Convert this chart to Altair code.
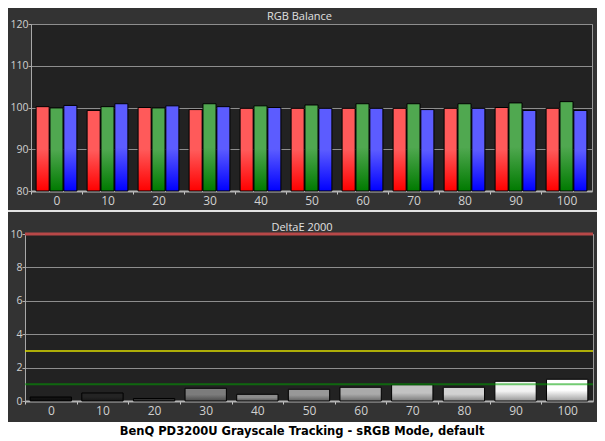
import altair as alt
import pandas as pd

# ---------------- data ----------------
levels = [0, 10, 20, 30, 40, 50, 60, 70, 80, 90, 100]
red_vals = [100.2, 99.3, 100.0, 99.5, 99.8, 99.8, 99.8, 99.8, 99.8, 100.0, 99.8]
green_vals = [99.9, 100.2, 99.9, 100.9, 100.4, 100.6, 100.9, 100.9, 100.9, 101.1, 101.4]
blue_vals = [100.5, 100.9, 100.4, 100.2, 100.0, 99.8, 99.8, 99.5, 99.8, 99.3, 99.3]
delta_e = [0.24, 0.48, 0.15, 0.76, 0.40, 0.70, 0.82, 0.97, 0.82, 1.18, 1.30]
threshold_red = [10]
threshold_yellow = [3]
threshold_green = [1]
top_title = "RGB Balance"
bottom_title = "DeltaE 2000"
caption = "BenQ PD3200U Grayscale Tracking - sRGB Mode, default"

# ---------------- styles ----------------
BG = "#333333"
PLOT_BG = "#222222"
LABEL = "#d0d0d0"
FONT = "Open Sans"
gray_top = ["#121212", "#242424", "#303030", "#7c7c7c", "#8c8c8c", "#989898",
            "#aaaaaa", "#c2c2c2", "#d2d2d2", "#f2f2f2", "#ffffff"]
gray_bot = ["#080808", "#161616", "#1e1e1e", "#4a4a4a", "#555555", "#5e5e5e",
            "#6a6a6a", "#7a7a7a", "#858585", "#959595", "#a0a0a0"]
rgb_style = {"R": ("#ff5a5a", "#ff0000"), "G": ("#50a850", "#007a00"), "B": ("#5c5cff", "#0000ff")}

def vgrad(top, bottom):
    return alt.Gradient(gradient="linear", x1=0, x2=0, y1=0, y2=1,
                        stops=[alt.GradientStop(offset=0, color=top),
                               alt.GradientStop(offset=0.5, color=top),
                               alt.GradientStop(offset=1, color=bottom)])

def band_fill(first, second, split):
    # hard-edged vertical two-colour fill for a panel background
    return alt.Gradient(gradient="linear", x1=0, x2=0, y1=0, y2=1,
                        stops=[alt.GradientStop(offset=0, color=first),
                               alt.GradientStop(offset=split, color=first),
                               alt.GradientStop(offset=split, color=second),
                               alt.GradientStop(offset=1, color=second)])

rows = []
for i, lv in enumerate(levels):
    for ch, vals in (("R", red_vals), ("G", green_vals), ("B", blue_vals)):
        rows.append({"level": lv, "ch": ch, "value": vals[i]})
rgb_df = pd.DataFrame(rows)
de_df = pd.DataFrame({"level": levels, "de": delta_e})

TOP_W, TOP_H = 561, 167
BOT_W, BOT_H = 568, 167
FULL_W = 589

def x_enc(step):
    return alt.X("level:O", sort=levels,
                 scale=alt.Scale(paddingInner=0.2, paddingOuter=0.1),
                 axis=alt.Axis(title=None, labelAngle=0, labelFontSize=12,
                               tickOffset=-step / 2, labelOffset=step / 2,
                               tickSize=3, tickColor="#c8c8c8", labelPadding=1,
                               domainColor="#b4b4b4", domainWidth=2))

def y_axis(vals):
    return alt.Axis(title=None, values=vals, grid=True,
                    gridColor="#8e8e8e", tickSize=3, tickColor="#b0b0b0",
                    domainColor="#a8a8a8", labelPadding=0, labelFontSize=10.5)

def spacer():
    return alt.Chart(pd.DataFrame({"v": [0]})).mark_rule(opacity=0).encode(
        y=alt.value(0)
    ).properties(width=1, height=1, view=alt.ViewBackground(opacity=0, strokeWidth=0))

def panel(fill, height):
    # full-width decorative band; a rect with no position channels spans the view
    return alt.Chart(pd.DataFrame({"v": [0]})).mark_rect(fill=fill, strokeWidth=0).encode(
        opacity=alt.value(1)
    ).properties(width=FULL_W, height=height,
                 view=alt.ViewBackground(fill=BG, strokeWidth=0))

# ---------------- top chart ----------------
x_top = x_enc(TOP_W / 11)
y_top = alt.Y("value:Q", scale=alt.Scale(domain=[80, 120], nice=False, zero=False),
              axis=y_axis([80, 90, 100, 110, 120]))
xoff = alt.XOffset("ch:N", scale=alt.Scale(domain=["R", "G", "B"], paddingInner=0.06, paddingOuter=0))

top_layers = []
for ch in ["R", "G", "B"]:
    t, b = rgb_style[ch]
    top_layers.append(
        alt.Chart(rgb_df).transform_filter(alt.datum.ch == ch)
        .mark_bar(fill=vgrad(t, b), stroke="#000000", strokeWidth=1)
        .encode(x=x_top, xOffset=xoff, y=y_top, y2=alt.datum(80))
    )
top = alt.layer(*top_layers).properties(
    width=TOP_W, height=TOP_H,
    title=alt.TitleParams(top_title, fontSize=11, font=FONT, fontWeight="normal",
                          color="#e0e0e0", offset=-2.5, dx=-12),
)

# ---------------- separator ----------------
SEP_H = 7.5
sep = panel(band_fill("#e2e2e2", BG, 2 / SEP_H), SEP_H)

# ---------------- bottom chart ----------------
x_bot = x_enc(BOT_W / 11)
y_bot = alt.Y("de:Q", scale=alt.Scale(domain=[0, 10], nice=False),
              axis=y_axis([0, 2, 4, 6, 8, 10]))
bot_layers = []
for i, lv in enumerate(levels):
    bot_layers.append(
        alt.Chart(de_df).transform_filter(alt.datum.level == lv)
        .mark_bar(fill=vgrad(gray_top[i], gray_bot[i]), stroke="#000000", strokeWidth=1)
        .encode(x=x_bot, y=y_bot)
    )
bot_layers.append(alt.Chart(pd.DataFrame({"de": threshold_yellow})).mark_rule(
    color="#dede00", strokeWidth=1.5).encode(y=y_bot))
bot_layers.append(alt.Chart(pd.DataFrame({"de": threshold_green})).mark_rule(
    color="#00a000", strokeWidth=2, opacity=0.55).encode(y=y_bot))
bot_layers.append(alt.Chart(pd.DataFrame({"de": threshold_red})).mark_rule(
    color="#b84848", strokeWidth=3).encode(y=y_bot))
bottom = alt.layer(*bot_layers).properties(
    width=BOT_W, height=BOT_H,
    title=alt.TitleParams(bottom_title, fontSize=11, font=FONT, fontWeight="normal",
                          color="#e0e0e0", offset=-4, dx=-7),
)

# ---------------- caption ----------------
CAP_H = 24
cap_bg = panel(band_fill(BG, "#ffffff", 2 / CAP_H), CAP_H)
cap_text = alt.Chart(pd.DataFrame({"t": [caption]})).mark_text(
    font="DejaVu Sans", fontSize=11.5, fontWeight="bold", color="#000000"
).encode(text="t:N", x=alt.value(294), y=alt.value(12))
cap = alt.layer(cap_bg, cap_text).properties(width=FULL_W, height=CAP_H)

chart = alt.vconcat(
    alt.hconcat(spacer(), top, spacing=0),
    sep,
    alt.hconcat(spacer(), bottom, spacing=0),
    cap,
    spacing=3,
).properties(padding={"top": 2, "left": 0, "right": 0, "bottom": 0}, background=BG).configure_view(
    fill=PLOT_BG, stroke="#9a9a9a", strokeWidth=1
).configure_axis(labelFont=FONT, labelColor=LABEL)

chart.save("out.html", embed_options={"renderer": "svg", "actions": False})
